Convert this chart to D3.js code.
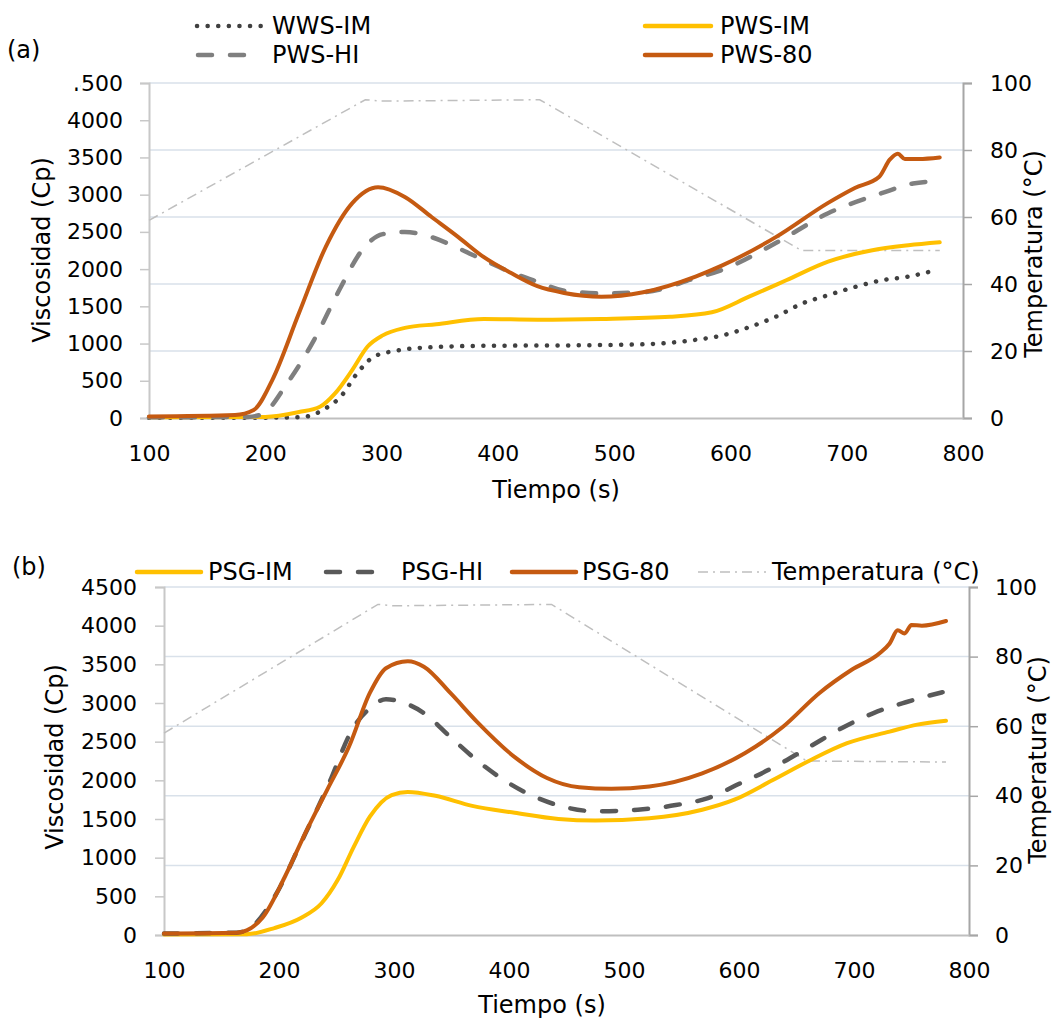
<!DOCTYPE html>
<html>
<head>
<meta charset="utf-8">
<script src="https://cdn.jsdelivr.net/npm/d3@7"></script>
<style>
  body { margin: 0; background: #fff; }
  text { font-family: "DejaVu Sans", "Liberation Sans", Arial, sans-serif; fill: #000; }
</style>
</head>
<body>
<svg id="chart" width="1052" height="1023"></svg>
<script>
// ---------- Data: viscosity (cP) and temperature (°C) against time (s) ----------

// Panel (a)
const wwsImT = [100, 200, 230, 252, 265, 279, 293, 311, 343, 388, 457, 525, 570, 593, 616, 639, 662, 684, 707, 730, 753, 775];
const wwsImV = [5, 5, 10, 130, 290, 600, 820, 900, 950, 970, 975, 990, 1050, 1110, 1220, 1360, 1540, 1650, 1760, 1850, 1900, 1980];

const pwsImT = [100, 200, 229, 247, 260, 275, 288, 301, 320, 347, 388, 434, 489, 548, 584, 616, 648, 684, 721, 753, 780];
const pwsImV = [10, 15, 80, 150, 330, 650, 960, 1110, 1210, 1260, 1330, 1320, 1330, 1360, 1420, 1630, 1850, 2100, 2250, 2320, 2360];

const pwsHiT = [100, 185, 197, 219, 242, 265, 283, 301, 320, 343, 366, 388, 411, 434, 457, 489, 525, 570, 593, 639, 684, 730, 757, 775];
const pwsHiV = [10, 15, 50, 470, 1050, 1760, 2250, 2470, 2500, 2430, 2280, 2120, 1960, 1830, 1710, 1675, 1690, 1880, 1990, 2350, 2750, 3020, 3150, 3180];

const pws80T = [100, 174, 190, 206, 229, 252, 275, 297, 320, 343, 366, 388, 411, 434, 457, 489, 525, 570, 593, 639, 684, 707, 728, 737, 744, 750, 762, 780];
const pws80V = [20, 40, 107, 510, 1410, 2300, 2890, 3100, 2970, 2700, 2430, 2160, 1950, 1770, 1680, 1630, 1690, 1900, 2050, 2430, 2890, 3090, 3240, 3470, 3550, 3480, 3480, 3500];

const tempAT = [100, 286, 300, 436, 661, 780];
const tempAV = [59, 95, 94.6, 95, 50, 50];

// Panel (b)
const psgImT = [100, 172, 196, 219, 237, 251, 265, 279, 298, 312, 336, 368, 405, 443, 475, 522, 568, 596, 629, 662, 694, 731, 755, 780];
const psgImV = [5, 10, 90, 220, 410, 710, 1140, 1530, 1810, 1850, 1800, 1670, 1580, 1500, 1480, 1510, 1620, 1750, 2000, 2260, 2480, 2630, 2720, 2770];

const psgHiT = [100, 163, 175, 196, 219, 242, 265, 279, 293, 307, 326, 349, 372, 396, 419, 447, 475, 512, 545, 573, 601, 629, 662, 690, 717, 745, 777];
const psgHiV = [20, 30, 90, 490, 1190, 1910, 2690, 2930, 3050, 3010, 2870, 2560, 2260, 2000, 1810, 1660, 1600, 1620, 1680, 1770, 1960, 2160, 2440, 2680, 2870, 3010, 3140];

const psg80T = [100, 163, 172, 186, 205, 223, 242, 261, 279, 293, 312, 326, 349, 372, 405, 433, 461, 489, 522, 568, 605, 638, 670, 698, 722, 731, 738, 744, 750, 759, 780];
const psg80V = [20, 30, 60, 230, 750, 1320, 1880, 2440, 3130, 3450, 3540, 3470, 3130, 2760, 2300, 2030, 1910, 1890, 1920, 2090, 2350, 2690, 3130, 3430, 3640, 3770, 3940, 3900, 4010, 4000, 4060];

const tempBT = [100, 286, 300, 437, 659, 780];
const tempBV = [58, 95, 94.6, 95, 50, 49.7];

// Axis ticks
const timeTicks = [100, 200, 300, 400, 500, 600, 700, 800];
const viscTicks = [0, 500, 1000, 1500, 2000, 2500, 3000, 3500, 4000, 4500];
const tempTicks = [0, 20, 40, 60, 80, 100];

// ---------- Styles ----------
const COLORS = {
  yellow: "#FFC000",
  orange: "#C55A11",
  greyA: "#7F7F7F",
  greyB: "#595959",
  dots: "#404040",
  temp: "#BFBFBF",
  grid: "#D9E1EA"
};
const DASH = { long: "14,18", dot: "0.1,10.5", dashDot: "10,5,2,5" };
const TICK_FONT = 22;
const LABEL_FONT = 24;

const svg = d3.select("#chart");

function drawPanel(cfg) {
  const { left, right, top, bottom } = cfg.box;
  const x = d3.scaleLinear().domain([100, 800]).range([left, right]);
  const yV = d3.scaleLinear().domain([0, 4500]).range([bottom, top]);
  const yT = d3.scaleLinear().domain([0, 100]).range([bottom, top]);
  const g = svg.append("g");

  // horizontal gridlines at temperature ticks
  g.append("g").selectAll("line")
    .data(tempTicks.filter(d => d > 0))
    .join("line")
    .attr("x1", left).attr("x2", right)
    .attr("y1", d => yT(d)).attr("y2", d => yT(d))
    .attr("stroke", COLORS.grid).attr("stroke-width", 1.5);

  // left axis (viscosity)
  const axL = g.append("g").attr("transform", `translate(${left},0)`)
    .call(d3.axisLeft(yV).tickValues(viscTicks).tickSize(9).tickPadding(cfg.padL).tickFormat(d3.format("d")));
  axL.select(".domain").attr("stroke", "#C8C8C8").attr("stroke-width", 2);
  axL.selectAll(".tick line").attr("stroke", "#C8C8C8").attr("stroke-width", 1.5);
  axL.selectAll(".tick text").style("font-size", TICK_FONT + "px").attr("fill", "#000");

  // right axis (temperature)
  const axR = g.append("g").attr("transform", `translate(${right},0)`)
    .call(d3.axisRight(yT).tickValues(tempTicks).tickSize(9).tickPadding(cfg.padR));
  axR.select(".domain").attr("stroke", "#A6A6A6").attr("stroke-width", 2);
  axR.selectAll(".tick line").attr("stroke", "#A6A6A6").attr("stroke-width", 1.5);
  axR.selectAll(".tick text").style("font-size", TICK_FONT + "px").attr("fill", "#000");

  // bottom axis (time)
  const axB = g.append("g").attr("transform", `translate(0,${bottom})`)
    .call(d3.axisBottom(x).tickValues(timeTicks).tickSize(0).tickPadding(cfg.padB));
  axB.select(".domain").attr("stroke", "#BFBFBF").attr("stroke-width", 2);
  axB.selectAll(".tick text").style("font-size", TICK_FONT + "px").attr("fill", "#000");

  // axis titles
  g.append("text").attr("transform", `translate(${cfg.titleL[0]},${cfg.titleL[1]}) rotate(-90)`)
    .attr("text-anchor", "middle").attr("dy", "0.35em").style("font-size", LABEL_FONT + "px").text("Viscosidad (Cp)");
  g.append("text").attr("transform", `translate(${cfg.titleR[0]},${cfg.titleR[1]}) rotate(-90)`)
    .attr("text-anchor", "middle").attr("dy", "0.35em").style("font-size", LABEL_FONT + "px").text("Temperatura (°C)");
  g.append("text").attr("x", cfg.titleB[0]).attr("y", cfg.titleB[1])
    .attr("text-anchor", "middle").attr("dy", "0.35em").style("font-size", LABEL_FONT + "px").text("Tiempo (s)");

  // panel label
  g.append("text").attr("x", cfg.tag[0]).attr("y", cfg.tag[1]).attr("dy", "0.35em")
    .style("font-size", LABEL_FONT + "px").text(cfg.tagText);

  // temperature line
  const lineT = d3.line().x((d, i) => x(cfg.tempT[i])).y(d => yT(d));
  g.append("path").datum(cfg.tempV).attr("d", lineT)
    .attr("fill", "none").attr("stroke", COLORS.temp).attr("stroke-width", 1.5)
    .attr("stroke-dasharray", DASH.dashDot);

  // viscosity curves
  cfg.series.forEach(s => {
    const line = d3.line().curve(d3.curveMonotoneX)
      .x((d, i) => x(s.t[i])).y(d => yV(d));
    g.append("path").datum(s.v).attr("d", line)
      .attr("fill", "none").attr("stroke", s.color).attr("stroke-width", s.width)
      .attr("stroke-linecap", "round").attr("stroke-linejoin", "round")
      .attr("stroke-dasharray", s.dash || null);
  });

  // legend
  const lg = g.append("g");
  cfg.legend.forEach(item => {
    lg.append("line").attr("x1", item.x0).attr("x2", item.x1).attr("y1", item.y).attr("y2", item.y)
      .attr("stroke", item.color).attr("stroke-width", item.width)
      .attr("stroke-linecap", item.cap || "round").attr("stroke-dasharray", item.dash || null);
    lg.append("text").attr("x", item.tx).attr("y", item.y).attr("dy", "0.35em")
      .style("font-size", LABEL_FONT + "px").text(item.label);
  });

  return { axL, yV };
}

// ---------- Panel (a) ----------
const seriesA = [
  { t: wwsImT, v: wwsImV, color: COLORS.dots, width: 4.5, dash: DASH.dot },
  { t: pwsImT, v: pwsImV, color: COLORS.yellow, width: 4 },
  { t: pwsHiT, v: pwsHiV, color: COLORS.greyA, width: 4.5, dash: DASH.long },
  { t: pws80T, v: pws80V, color: COLORS.orange, width: 4 }
];
const panelA = drawPanel({
  box: { left: 149, right: 963, top: 83, bottom: 418 },
  padL: 17, padR: 18, padB: 27,
  titleL: [42, 250], titleR: [1034, 254], titleB: [556, 490],
  tag: [7, 50], tagText: "(a)",
  tempT: tempAT, tempV: tempAV,
  series: seriesA,
  legend: [
    { label: "WWS-IM", color: COLORS.dots, width: 4.5, dash: DASH.dot, x0: 197, x1: 262, tx: 272, y: 26 },
    { label: "PWS-HI", color: COLORS.greyA, width: 4.5, dash: DASH.long, x0: 198, x1: 252, tx: 272, y: 55 },
    { label: "PWS-IM", color: COLORS.yellow, width: 4.5, x0: 645, x1: 711, tx: 720, y: 26 },
    { label: "PWS-80", color: COLORS.orange, width: 4.5, x0: 645, x1: 711, tx: 720, y: 55 }
  ]
});

// top tick label of panel (a) is partly hidden behind the legend box
panelA.axL.selectAll(".tick text").filter(d => d === 4500).each(function () {
  const node = this;
  const bb = node.getBBox();
  const w4 = node.getSubStringLength(0, 1);
  const baseline = 0.32 * TICK_FONT;
  const clip = svg.append("defs").append("clipPath").attr("id", "clip-top-label")
    .attr("clipPathUnits", "userSpaceOnUse");
  clip.append("rect").attr("x", bb.x + w4 - 1).attr("y", bb.y).attr("width", bb.width - w4 + 2).attr("height", bb.height);
  clip.append("rect").attr("x", bb.x).attr("y", baseline - 3).attr("width", w4).attr("height", 6);
  d3.select(node).attr("clip-path", "url(#clip-top-label)");
});

// ---------- Panel (b) ----------
const seriesB = [
  { t: psgImT, v: psgImV, color: COLORS.yellow, width: 4 },
  { t: psgHiT, v: psgHiV, color: COLORS.greyB, width: 4.5, dash: DASH.long },
  { t: psg80T, v: psg80V, color: COLORS.orange, width: 4 }
];
drawPanel({
  box: { left: 164, right: 969, top: 587, bottom: 935 },
  padL: 18, padR: 17, padB: 27,
  titleL: [55, 757], titleR: [1038, 760], titleB: [542, 1005],
  tag: [12, 567], tagText: "(b)",
  tempT: tempBT, tempV: tempBV,
  series: seriesB,
  legend: [
    { label: "PSG-IM", color: COLORS.yellow, width: 4.5, x0: 137, x1: 201, tx: 208, y: 572 },
    { label: "PSG-HI", color: COLORS.greyB, width: 4.5, dash: DASH.long, x0: 326, x1: 383, tx: 401, y: 572 },
    { label: "PSG-80", color: COLORS.orange, width: 4.5, x0: 512, x1: 576, tx: 582, y: 572 },
    { label: "Temperatura (°C)", color: COLORS.temp, width: 1.5, dash: DASH.dashDot, cap: "butt", x0: 698, x1: 766, tx: 772, y: 572 }
  ]
});
</script>
</body>
</html>
